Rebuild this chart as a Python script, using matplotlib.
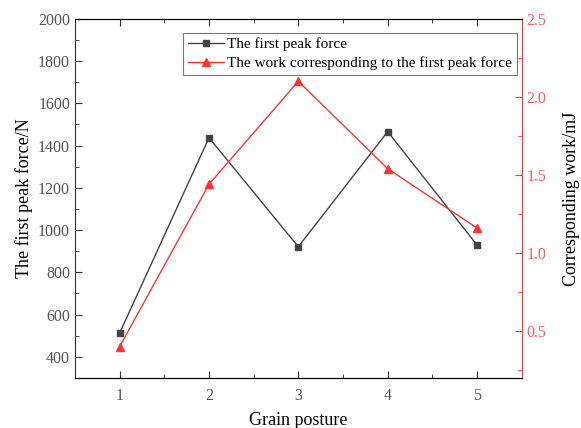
import matplotlib.pyplot as plt
from matplotlib.ticker import MultipleLocator

plt.rcParams['font.family'] = ['Liberation Serif', 'DejaVu Serif']

# Datos de cada postura del grano
posture = [1, 2, 3, 4, 5]
peak_force = [512, 1437, 921, 1466, 929]        # N
work = [0.40, 1.44, 2.10, 1.54, 1.16]           # mJ

black = '#444444'
red = '#ff3333'

fig = plt.figure(figsize=(5.81, 4.28), dpi=100)
ax = fig.add_axes([0.129, 0.117, 0.769, 0.839])
ax2 = ax.twinx()

l1, = ax.plot(posture, peak_force, color=black, marker='s', markersize=4.5, lw=1.0,
              label='The first peak force')
l2, = ax2.plot(posture, work, color=red, marker='^', markersize=6, lw=1.0,
               label='The work corresponding to the first peak force')

ax.set_xlim(0.5, 5.5)
ax.set_ylim(300, 2000)
ax2.set_ylim(0.2, 2.5)

ax.xaxis.set_major_locator(MultipleLocator(1))
ax.xaxis.set_minor_locator(MultipleLocator(0.5))
ax.yaxis.set_major_locator(MultipleLocator(200))
ax.yaxis.set_minor_locator(MultipleLocator(100))
ax2.yaxis.set_major_locator(MultipleLocator(0.5))
ax2.yaxis.set_minor_locator(MultipleLocator(0.25))

ax.tick_params(axis='both', which='both', direction='in', top=True, right=False,
               labelsize=11.5, labelcolor='#555555', color='#333333')
ax.tick_params(axis='x', pad=7)
ax.tick_params(which='major', length=5)
ax.tick_params(which='minor', length=3)
ax2.tick_params(axis='y', which='both', direction='in', colors=red, labelcolor='#ff5c5c',
                labelsize=11.5)
ax2.tick_params(which='major', length=5)
ax2.tick_params(which='minor', length=3)
ax2.yaxis.set_major_formatter(plt.FormatStrFormatter('%.1f'))

for s in ['left', 'bottom', 'top']:
    ax.spines[s].set_color('#333333')
ax2.spines['right'].set_color(red)
ax2.spines['left'].set_visible(False)
ax.spines['right'].set_visible(False)

ax.set_xlabel('Grain posture', fontsize=13, labelpad=6)
ax.set_ylabel('The first peak force/N', fontsize=13)
ax2.set_ylabel('Corresponding work/mJ', fontsize=13, labelpad=12)

leg = ax.legend(handles=[l1, l2], loc='upper left', bbox_to_anchor=(183 / 581, 1 - 33 / 428),
                bbox_transform=fig.transFigure, fontsize=11, fancybox=False,
                edgecolor='#777777', framealpha=1, borderpad=0.3, labelspacing=0.35,
                handlelength=2.4, handletextpad=0.2, borderaxespad=0)
leg.get_frame().set_linewidth(0.8)

fig.savefig('out.png', dpi=100)
